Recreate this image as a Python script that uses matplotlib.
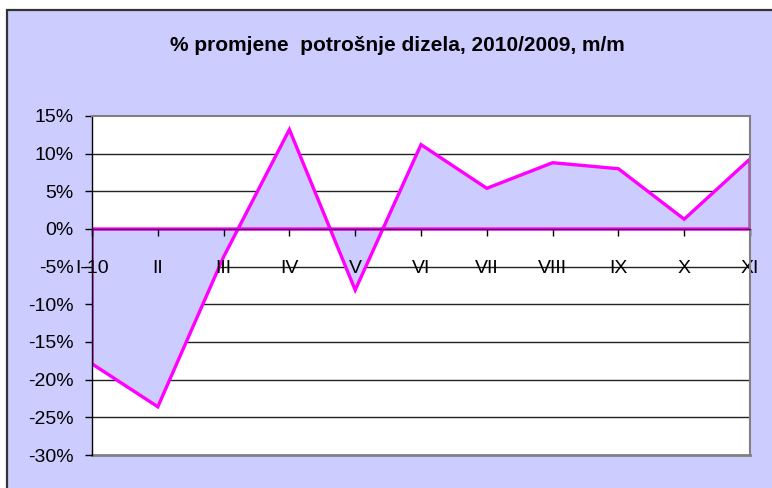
import matplotlib
matplotlib.use("Agg")
import matplotlib.pyplot as plt
from matplotlib.patches import Rectangle
from matplotlib.ticker import FuncFormatter, MultipleLocator

months = ["I-10", "II", "III", "IV", "V", "VI", "VII", "VIII", "IX", "X", "XI"]
change_pct = [-17.9, -23.6, -3.7, 13.2, -8.1, 11.2, 5.4, 8.8, 8.0, 1.3, 9.3]
title = "% promjene  potrošnje dizela, 2010/2009, m/m"
y_ticks = [-30, -25, -20, -15, -10, -5, 0, 5, 10, 15]

LAV = "#CCCCFF"
MAG = "#FF00FF"

plt.rcParams["font.family"] = ["Liberation Sans", "DejaVu Sans"]

W, H = 772, 488
fig = plt.figure(figsize=(W / 100, H / 100), dpi=100)
fig.patch.set_facecolor("white")

# lavender chart area with dark border on left/top
bg = Rectangle((7 / W, -0.05), 1.2, 1 - 10 / H + 0.05, transform=fig.transFigure,
               facecolor=LAV, edgecolor="#333333", linewidth=1.6, zorder=0)
fig.patches.append(bg)

ax = fig.add_axes([92 / W, 1 - 455 / H, (750 - 92) / W, (455 - 116) / H])
ax.set_zorder(3)
ax.set_facecolor("white")

# gridlines below the area fill
for yv in y_ticks[1:-1]:
    if yv != 0:
        ax.axhline(yv, color="#222222", linewidth=1.0, zorder=1)

x = list(range(len(months)))
poly_x = [x[0]] + x + [x[-1]]
poly_y = [0] + change_pct + [0]
ax.fill(poly_x, poly_y, facecolor=LAV, edgecolor=MAG, linewidth=2.4, zorder=2,
        joinstyle="miter")

ax.set_xlim(0, len(months) - 1)
ax.set_ylim(y_ticks[0], y_ticks[-1])
ax.set_yticks(y_ticks)
ax.yaxis.set_major_formatter(FuncFormatter(lambda v, p: f"{v:.0f}%"))
ax.set_axisbelow(False)

ax.set_xticks(x)
ax.set_xticklabels(months)

for s in ["top", "right"]:
    ax.spines[s].set_color("#808080")
    ax.spines[s].set_linewidth(1.5)
ax.spines["left"].set_color("black")
ax.spines["left"].set_linewidth(1.0)
ax.spines["bottom"].set_position(("data", 0))
ax.spines["bottom"].set_color("#660066")
ax.spines["bottom"].set_linewidth(1.0)
for sp in ax.spines.values():
    sp.set_zorder(4)

# bottom border of plot area
ax.plot([0, 1], [0, 0], transform=ax.transAxes, color="#808080", linewidth=2.0,
        clip_on=False, zorder=2.2)

ax.tick_params(axis="y", direction="out", length=5, width=1, pad=8,
               labelsize=14, colors="black")
ax.tick_params(axis="x", direction="out", length=5, width=1, pad=17,
               labelsize=14, colors="black")

fig.text(397 / W, 1 - 46 / H, title, ha="center", va="center",
         fontsize=15, fontweight="bold")

fig.savefig("out.png", dpi=100)
